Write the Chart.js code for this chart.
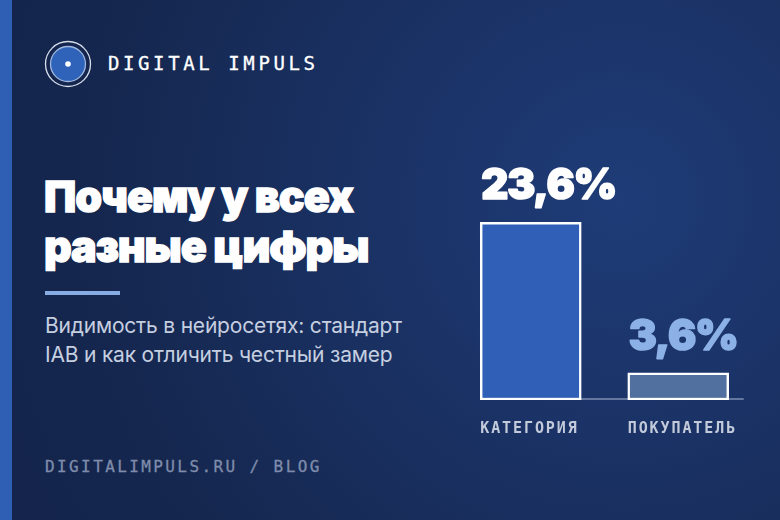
<!DOCTYPE html>
<html lang="ru">
<head>
<meta charset="UTF-8">
<title>Почему у всех разные цифры</title>
<script src="https://cdn.jsdelivr.net/npm/chart.js@4.4.3/dist/chart.umd.min.js"></script>
<style>
  html, body { margin: 0; padding: 0; }
  body {
    width: 780px; height: 520px; overflow: hidden; position: relative;
    background: radial-gradient(circle at 620px 200px, #1f3c78 0%, #1a3265 35%, #15274f 75%, #14244b 100%);
    font-family: Inter, "Noto Sans", sans-serif;
  }
  .stripe { position: absolute; left: 0; top: 0; width: 12px; height: 520px; background: #2f5fb5; }
  .logo { position: absolute; left: 44px; top: 40px; }
  .brand {
    position: absolute; left: 108px; top: 52px; color: #ffffff;
    font: 19px "DejaVu Sans Mono", monospace; letter-spacing: 3.6px;
    -webkit-text-stroke: 0.3px #ffffff;
  }
  .title {
    position: absolute; left: 44px; top: 171px; color: #ffffff;
    font-size: 43px; font-weight: 900; line-height: 50px; letter-spacing: -1.1px;
    -webkit-text-stroke: 1.3px #ffffff;
  }
  .rule { position: absolute; left: 45px; top: 291px; width: 75px; height: 4px; background: #86ace3; }
  .sub {
    position: absolute; left: 45px; top: 311px; color: #c6cfe0;
    font-size: 21px; line-height: 29px; letter-spacing: -0.2px;
  }
  .foot {
    position: absolute; left: 45px; top: 457px; color: #7f8cab;
    font: 16px "DejaVu Sans Mono", monospace; letter-spacing: 2.4px;
    -webkit-text-stroke: 0.3px #7f8cab;
  }
  #chart { position: absolute; left: 0; top: 0; }
</style>
</head>
<body>
<div class="stripe"></div>
<svg class="logo" width="48" height="48" viewBox="0 0 48 48">
  <circle cx="24" cy="24" r="22.5" fill="none" stroke="#d7deea" stroke-width="1.3"/>
  <circle cx="24" cy="24" r="17.5" fill="#2f62b9" stroke="#9fb8e0" stroke-width="1.3"/>
  <circle cx="24" cy="24" r="2.8" fill="#ffffff"/>
</svg>
<div class="brand">DIGITAL IMPULS</div>
<div class="title">Почему у всех<br>разные цифры</div>
<div class="rule"></div>
<div class="sub">Видимость в нейросетях: стандарт<br>IAB и как отличить честный замер</div>
<div class="foot">DIGITALIMPULS.RU / BLOG</div>
<canvas id="chart" width="780" height="520"></canvas>
<script>
  const categories = ['КАТЕГОРИЯ', 'ПОКУПАТЕЛЬ'];
  const shares = [23.6, 3.6];
  const valueLabels = ['23,6%', '3,6%'];
  const barColors = ['#2f5fb7', '#516f9f'];
  const labelColors = ['#ffffff', '#8cb1e7'];

  // baseline, values above bars, category names below
  const decor = {
    id: 'decor',
    beforeDatasetsDraw(chart) {
      const bars = chart.getDatasetMeta(0).data;
      const ctx = chart.ctx;
      const y0 = chart.scales.y.getPixelForValue(0);
      const first = bars[0], last = bars[bars.length - 1];
      ctx.save();
      ctx.strokeStyle = 'rgba(150,165,195,0.6)';
      ctx.lineWidth = 2;
      ctx.beginPath();
      ctx.moveTo(first.x - first.width / 2, y0 - 1);
      ctx.lineTo(last.x + last.width / 2 + 15, y0 - 1);
      ctx.stroke();
      ctx.restore();
    },
    afterDatasetsDraw(chart) {
      const bars = chart.getDatasetMeta(0).data;
      const ctx = chart.ctx;
      const y0 = chart.scales.y.getPixelForValue(0);
      ctx.save();
      ctx.textAlign = 'left';
      ctx.textBaseline = 'alphabetic';
      bars.forEach((bar, i) => {
        const left = bar.x - bar.width / 2;
        ctx.fillStyle = labelColors[i];
        ctx.strokeStyle = labelColors[i];
        ctx.lineWidth = 1.6;
        ctx.lineJoin = 'round';
        ctx.font = '900 42px Inter, sans-serif';
        ctx.letterSpacing = '-1.2px';
        ctx.fillText(valueLabels[i], left + 1, bar.y - 23);
        ctx.strokeText(valueLabels[i], left + 1, bar.y - 23);
        ctx.fillStyle = '#c3cbdb';
        ctx.font = 'bold 15px "DejaVu Sans Mono", monospace';
        ctx.letterSpacing = '1.9px';
        ctx.fillText(categories[i], left, y0 + 33);
      });
      ctx.restore();
    }
  };

  new Chart(document.getElementById('chart'), {
    type: 'bar',
    data: {
      labels: categories,
      datasets: [{
        data: shares,
        backgroundColor: barColors,
        borderColor: '#ffffff',
        borderWidth: 2.5,
        borderSkipped: false,
        barThickness: 101
      }]
    },
    options: {
      responsive: false,
      animation: false,
      layout: { padding: { left: 457, right: 28, top: 174, bottom: 120 } },
      plugins: { legend: { display: false }, tooltip: { enabled: false } },
      scales: {
        x: { display: false },
        y: { display: false, min: 0, max: 30 }
      }
    },
    plugins: [decor]
  });
</script>
</body>
</html>
